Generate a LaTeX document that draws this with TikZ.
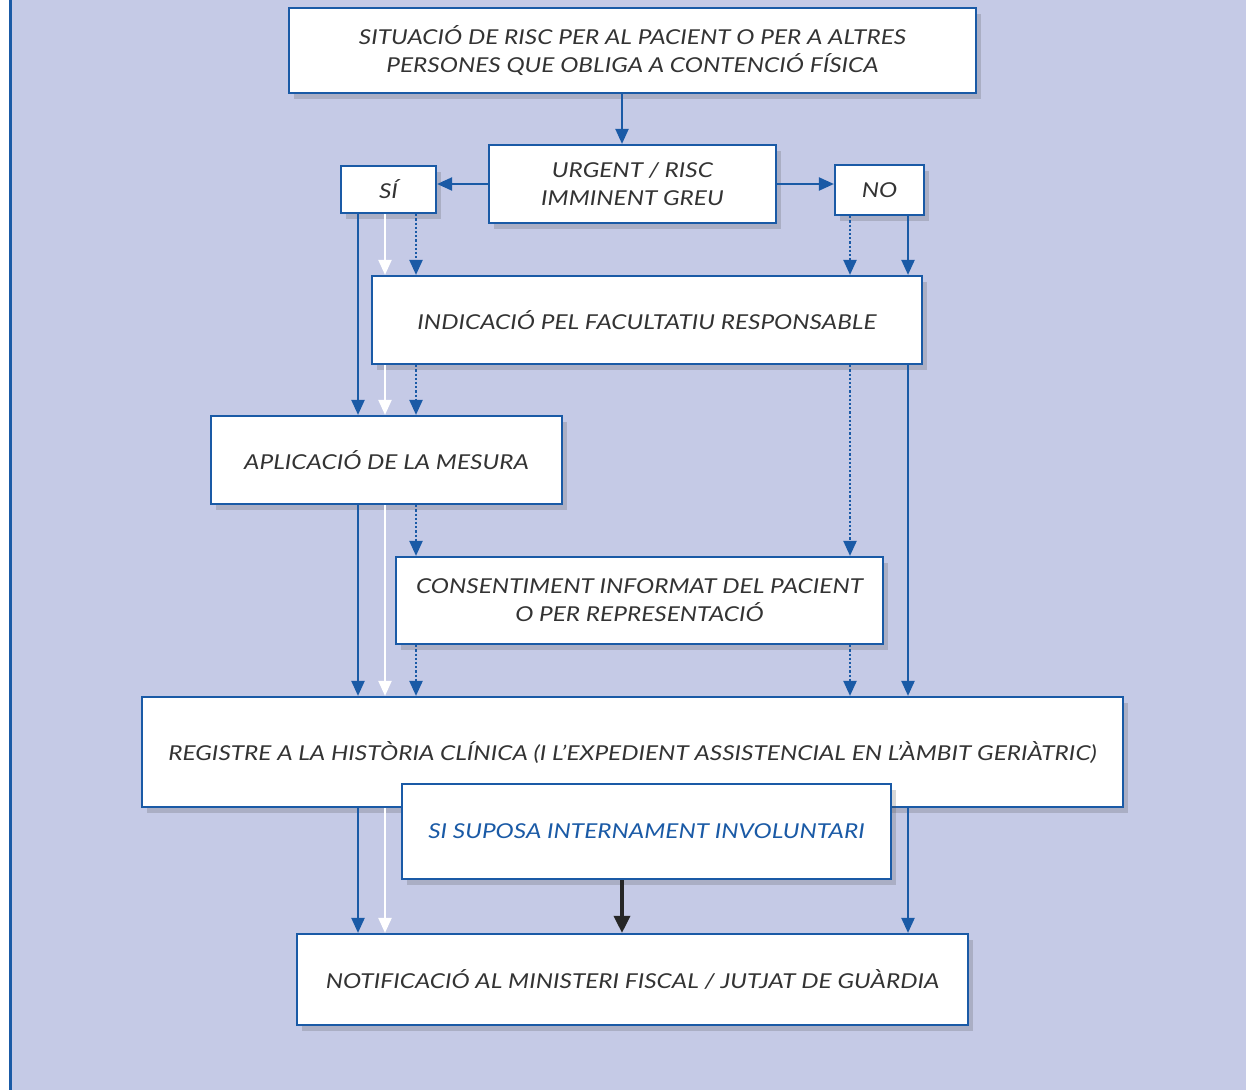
\documentclass[tikz,border=0pt]{standalone}
\usepackage{fontspec}
\setmainfont{Lato}[FakeStretch=1.19]
\usetikzlibrary{arrows.meta,shadows}
\definecolor{bg}{HTML}{C5CAE6}
\definecolor{bl}{HTML}{1A5AA6}
\definecolor{tx}{HTML}{333333}
\tikzset{
  box/.style={draw=bl, line width=2.2pt, fill=white, rectangle, inner sep=0pt,
    align=center, text=tx, font=\fontsize{20.5}{28}\selectfont\itshape,
    drop shadow={shadow xshift=5pt, shadow yshift=-6pt, opacity=0.22, fill=black!70}},
  arr/.style={draw=bl, line width=2.2pt, -{Triangle[width=13pt,length=15pt]}},
  warr/.style={draw=white, line width=2.2pt, -{Triangle[width=13pt,length=15pt]}},
  darr/.style={draw=bl, line width=2.2pt, dash pattern=on 2.2pt off 2pt, -{Triangle[width=13pt,length=15pt]}},
  karr/.style={draw=black!85, line width=3.5pt, -{Triangle[width=16pt,length=17pt]}},
}
\begin{document}
\begin{tikzpicture}[x=1pt,y=-1pt]
\useasboundingbox (0,0) rectangle (1246,1090);
\fill[white] (0,0) rectangle (1246,1090);
\fill[bg] (9,0) rectangle (1246,1090);
\draw[bl, line width=3pt] (10.5,0) -- (10.5,1090);

\node[box, minimum width=687, minimum height=85] (top) at (632.5,50.5)
  {SITUACIÓ DE RISC PER AL PACIENT O PER A ALTRES\\PERSONES QUE OBLIGA A CONTENCIÓ FÍSICA};
\node[box, minimum width=287, minimum height=78] (urg) at (632.5,184)
  {URGENT / RISC\\IMMINENT GREU};
\node[box, minimum width=95, minimum height=47] (si) at (388.5,189.5) {SÍ};
\node[box, minimum width=89, minimum height=50] (no) at (879.5,190) {NO};
\node[box, minimum width=550, minimum height=88] (ind) at (647,320)
  {INDICACIÓ PEL FACULTATIU RESPONSABLE};
\node[box, minimum width=351, minimum height=88] (apl) at (386.5,460)
  {APLICACIÓ DE LA MESURA};
\node[box, minimum width=487, minimum height=87] (con) at (639.5,600.5)
  {CONSENTIMENT INFORMAT DEL PACIENT\\O PER REPRESENTACIÓ};
\node[box, minimum width=981, minimum height=110] (reg) at (632.5,752)
  {REGISTRE A LA HISTÒRIA CLÍNICA (I L’EXPEDIENT ASSISTENCIAL EN L’ÀMBIT GERIÀTRIC)};
\node[box, minimum width=489, minimum height=95, text=bl] (sup) at (646.5,831.5)
  {SI SUPOSA INTERNAMENT INVOLUNTARI};
\node[box, minimum width=671, minimum height=91] (not) at (632.5,979.5)
  {NOTIFICACIÓ AL MINISTERI FISCAL / JUTJAT DE GUÀRDIA};

\coordinate (xa) at (358,0);
\coordinate (xw) at (385,0);
\coordinate (xd) at (416,0);
\coordinate (xn) at (850,0);
\coordinate (xs) at (908,0);
\coordinate (xc) at (622,0);

\draw[arr] (top.south -| xc) -- (urg.north -| xc);
\draw[arr] (urg.west) -- (urg.west -| si.east);
\draw[arr] (urg.east) -- (urg.east -| no.west);

% SI branch
\draw[arr] (si.south -| xa) -- (apl.north -| xa);
\draw[arr] (apl.south -| xa) -- (reg.north -| xa);
\draw[arr] (reg.south -| xa) -- (not.north -| xa);
\draw[warr] (si.south -| xw) -- (ind.north -| xw);
\draw[warr] (ind.south -| xw) -- (apl.north -| xw);
\draw[warr] (apl.south -| xw) -- (reg.north -| xw);
\draw[warr] (reg.south -| xw) -- (not.north -| xw);
\draw[darr] (si.south -| xd) -- (ind.north -| xd);
\draw[darr] (ind.south -| xd) -- (apl.north -| xd);
\draw[darr] (apl.south -| xd) -- (con.north -| xd);
\draw[darr] (con.south -| xd) -- (reg.north -| xd);

% NO branch
\draw[darr] (no.south -| xn) -- (ind.north -| xn);
\draw[darr] (ind.south -| xn) -- (con.north -| xn);
\draw[darr] (con.south -| xn) -- (reg.north -| xn);
\draw[arr] (no.south -| xs) -- (ind.north -| xs);
\draw[arr] (ind.south -| xs) -- (reg.north -| xs);
\draw[arr] (reg.south -| xs) -- (not.north -| xs);

\draw[karr] (sup.south -| xc) -- (not.north -| xc);
\end{tikzpicture}
\end{document}
